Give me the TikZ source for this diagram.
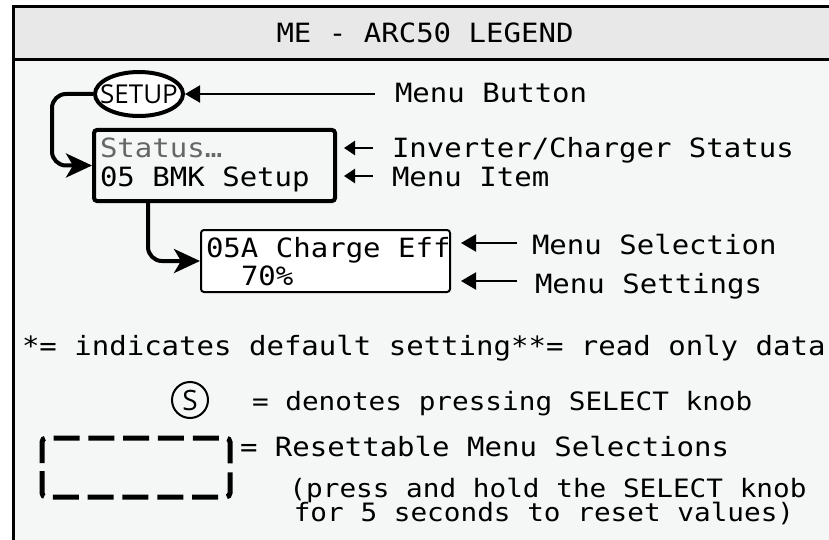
\documentclass[tikz,border=0pt]{standalone}
\usepackage{fontspec}
\usetikzlibrary{arrows.meta,shapes.geometric}
\newfontfamily\mfont[FakeStretch=1.095]{DejaVu Sans Mono}
\newfontfamily\sfont{Open Sans}
\definecolor{bodybg}{HTML}{F5F7F6}
\definecolor{titlebg}{HTML}{E8E8E8}
\definecolor{stgray}{HTML}{666666}
\begin{document}
\begin{tikzpicture}[x=1pt,y=-1pt,
  txt/.style={anchor=base west,inner sep=0pt,outer sep=0pt,font=\mfont\fontsize{26.5}{31}\selectfont},
  ctxt/.style={txt,anchor=base},
  smalltxt/.style={anchor=base,inner sep=0pt,outer sep=0pt,font=\mfont\fontsize{25.3}{30}\selectfont},
  conn/.style={line width=4pt,rounded corners=14pt,-{Stealth[length=26pt,width=24pt,inset=7pt]}},
  lblarrow/.style={line width=2pt,-{Triangle[length=15pt,width=17pt]}},
  shortarrow/.style={line width=2.5pt,-{Triangle[length=11pt,width=14pt]}}]
\useasboundingbox (0,0) rectangle (829,540);
\clip (0,0) rectangle (829,540);
\fill[white] (0,0) rectangle (829,540);
\fill[bodybg] (13,59.5) rectangle (860,560);
\fill[titlebg] (13,7) rectangle (860,59.5);
\draw[line width=3pt] (13,7) rectangle (860,560);
\draw[line width=3pt] (13,59.5) -- (860,59.5);
\node[ctxt] (title) at (425,43) {ME - ARC50 LEGEND};
% setup ellipse
\node[ellipse,draw,line width=4pt,fill=white,minimum width=88pt,minimum height=44pt,inner sep=0pt] (setup) at (139,94) {};
\node[inner sep=0pt,font=\sfont\fontsize{26}{30}\selectfont] (setupt) at (setup.center) {SETUP};
% status box
\node[draw,line width=4pt,rounded corners=3pt,minimum width=241pt,minimum height=71pt,inner sep=0pt] (st) at (214.5,165.5) {};
\node[txt,text=stgray] (stline) at (100,158) {Status…};
\node[txt] (item) at (100,186) {05 BMK Setup};
% selection box
\node[draw,line width=2pt,rounded corners=3pt,fill=white,minimum width=249pt,minimum height=62pt,inner sep=0pt] (sel) at (325.5,261) {};
\node[txt] (selt) at (206,257) {05A Charge Eff};
\node[txt] (setv) at (241,285) {70\%};
% connectors
\path (st.west) ++(-40,0) coordinate (cA);
\draw[conn] (setup.west) -| (cA) -- (st.west);
\path (st.south) ++(-66.5,0) coordinate (cB);
\draw[conn] (cB) |- (sel.west);
% labels
\node[txt] (mbtn) at (395,103) {Menu Button};
\path (mbtn.base west) ++(-20,0) coordinate (mb0);
\draw[lblarrow] (mb0 |- setup.east) -- (setup.east);
\node[txt] (inv) at (392,158) {Inverter/Charger Status};
\draw[shortarrow] ([shift={(-19,-10)}]inv.base west) -- ([shift={(-48,-10)}]inv.base west);
\node[txt] (mitem) at (392,186) {Menu Item};
\draw[shortarrow] ([shift={(-19,-10)}]mitem.base west) -- ([shift={(-48,-10)}]mitem.base west);
\node[txt] (msel) at (532,254) {Menu Selection};
\draw[lblarrow] ([shift={(-15,-11)}]msel.base west) -- ([shift={(-71,-11)}]msel.base west);
\node[txt] (mset) at (535,293) {Menu Settings};
\draw[lblarrow] ([shift={(-18,-12)}]mset.base west) -- ([shift={(-74,-12)}]mset.base west);
% bottom legend
\node[txt] (def) at (22,355) {*= indicates default setting**= read only data};
\node[circle,draw,line width=2pt,minimum size=36pt,inner sep=0pt] (sk) at (190,400) {};
\node[inner sep=0pt,font=\sfont\fontsize{28}{32}\selectfont] (skt) at (sk.center) {S};
\node[smalltxt,anchor=base west] (den) at (252,410) {= denotes pressing SELECT knob};
\coordinate (rsA) at (42,467.5);
\draw[line width=5pt,rounded corners=4pt,dash pattern=on 26pt off 8.8pt,dash phase=30.4pt]
  (rsA) -- (42,438) -- (230,438) -- (230,497) -- (42,497) -- (rsA);
\node[txt] (res) at (240,456) {= Resettable Menu Selections};
\node[smalltxt] (ph1) at (548,497) {(press and hold the SELECT knob};
\node[smalltxt] (ph2) at (544,521) {for 5 seconds to reset values)};
\end{tikzpicture}
\end{document}
